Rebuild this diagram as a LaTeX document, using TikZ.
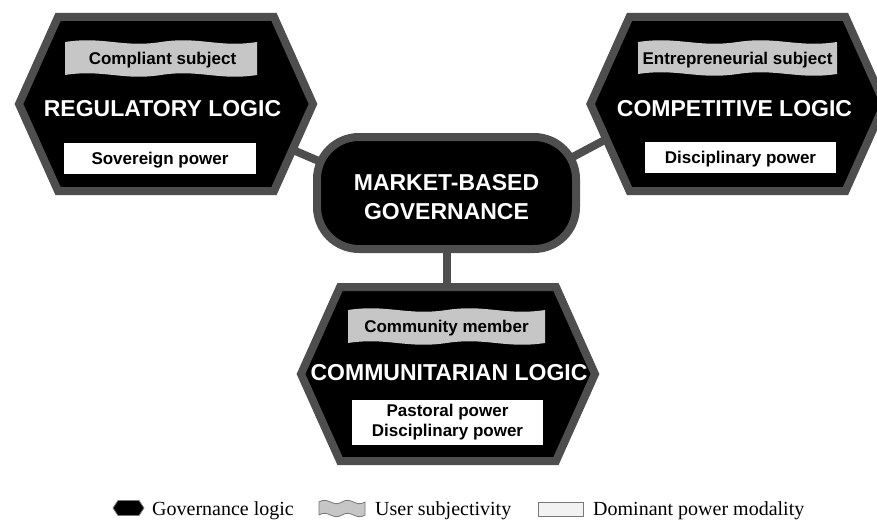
\documentclass[tikz,border=0pt]{standalone}
\usepackage{fontspec}
\setmainfont{Liberation Serif}
\setsansfont{Liberation Sans}
\usetikzlibrary{calc}
\pgfdeclarelayer{background}
\pgfsetlayers{background,main}

\definecolor{rimgray}{RGB}{78,78,78}
\definecolor{bannergray}{RGB}{198,198,198}
\definecolor{iconline}{RGB}{120,120,120}

\tikzset{
  govhex/.style={fill=black, draw=rimgray, line width=8pt, line join=miter},
  link/.style={draw=rimgray, line width=8pt},
  logictitle/.style={text=white, inner sep=0pt, text height=16.5pt, text depth=0pt,
    font=\sffamily\bfseries\fontsize{23}{29}\selectfont},
  tag/.style={inner sep=0pt, text height=12.2pt, text depth=0pt,
    font=\sffamily\bfseries\fontsize{17}{20}\selectfont},
  powerbox/.style={tag, fill=white},
  legendtext/.style={anchor=base west, inner sep=0pt, font=\fontsize{20}{24}\selectfont},
  pics/govhexagon/.style={code={
    \path[govhex] (-147,0) -- (-108,-87) -- (108,-87) -- (147,0)
      -- (108,87) -- (-108,87) -- cycle;}},
  pics/wavebanner/.style n args={3}{code={
    \path[#3] (-#1,-#2)
      .. controls ({-0.6*#1},{-#2-6}) and ({-0.4*#1},{-#2+6}) .. (0,-#2)
      .. controls ({0.4*#1},{-#2-6}) and ({0.6*#1},{-#2+6}) .. (#1,-#2)
      -- (#1,#2)
      .. controls ({0.6*#1},{#2+6}) and ({0.4*#1},{#2-6}) .. (0,#2)
      .. controls ({-0.4*#1},{#2+6}) and ({-0.6*#1},{#2-6}) .. (-#1,#2)
      -- cycle;}},
}

\begin{document}
\begin{tikzpicture}[x=1pt, y=-1pt]
  \useasboundingbox (0,0) rectangle (877,519);
  \clip (0,0) rectangle (877,519);

  \coordinate (H1) at (166,104);
  \coordinate (H2) at (737.5,104);
  \coordinate (H3) at (448,374);

  % regulatory logic
  \begin{scope}[shift={(H1)}]
    \pic {govhexagon};
    \pic at (-5,-45.5) {wavebanner={96}{16.5}{fill=bannergray}};
    \node[tag] (subjL) at (-3.5,-45.5) {Compliant subject};
    \node[logictitle] (logicL) at (-3.5,4.3) {REGULATORY LOGIC};
    \node[powerbox, minimum width=192pt, minimum height=31pt] (powerL) at (-6,54.5) {Sovereign power};
  \end{scope}

  % competitive logic
  \begin{scope}[shift={(H2)}]
    \pic {govhexagon};
    \pic at (0,-46) {wavebanner={99.5}{16}{fill=bannergray}};
    \node[tag] (subjR) at (0,-46) {Entrepreneurial subject};
    \node[logictitle] (logicR) at (-3,4.3) {COMPETITIVE LOGIC};
    \node[powerbox, minimum width=191pt, minimum height=31pt] (powerR) at (3,53.5) {Disciplinary power};
  \end{scope}

  % communitarian logic
  \begin{scope}[shift={(H3)}]
    \pic {govhexagon};
    \pic at (-1.5,-47.5) {wavebanner={98.5}{16.5}{fill=bannergray}};
    \node[tag] (subjB) at (-1.5,-47.5) {Community member};
    \node[logictitle] (logicB) at (1,-2) {COMMUNITARIAN LOGIC};
    \node[powerbox, minimum width=191pt, minimum height=45pt, align=center,
      text height=, text depth=] (powerB) at (-0.5,48.5) {Pastoral power\\Disciplinary power};
  \end{scope}

  % central governance node
  \node[fill=black, draw=rimgray, line width=8pt, rounded corners=42pt,
    minimum width=259pt, minimum height=112pt] (mbg) at (446.5,193) {};
  \node[align=center, text=white, inner sep=0pt,
    font=\sffamily\bfseries\fontsize{23}{29}\selectfont] (mbgtext) at (446.5,197.3)
    {MARKET-BASED\\GOVERNANCE};

  % links between the logics and the centre
  \begin{pgfonlayer}{background}
    \draw[link] ($(H1)+(99,34)$) -- ($(mbg.center)+(-60,-3)$);
    \draw[link] ($(mbg.center)+(73.5,-8)$) -- ($(H2)+(-57.5,-4)$);
    \draw[link] (mbg.center) -- (mbg.center |- H3);
  \end{pgfonlayer}

  % legend
  \path[fill=black, draw=iconline, line width=0.8pt]
    (113,508) -- (118,500.5) -- (139,500.5) -- (144,508) -- (139,515.5) -- (118,515.5) -- cycle;
  \node[legendtext] (lgHex) at (152,515) {Governance logic};
  \pic at (342,508.5) {wavebanner={23}{6.5}{fill=bannergray, draw=iconline, line width=0.8pt}};
  \node[legendtext] (lgSubj) at (375,515) {User subjectivity};
  \draw[fill=white!95!black, draw=iconline, line width=0.8pt] (538,502) rectangle (583,516);
  \node[legendtext] (lgPower) at (593,515) {Dominant power modality};
\end{tikzpicture}
\end{document}
